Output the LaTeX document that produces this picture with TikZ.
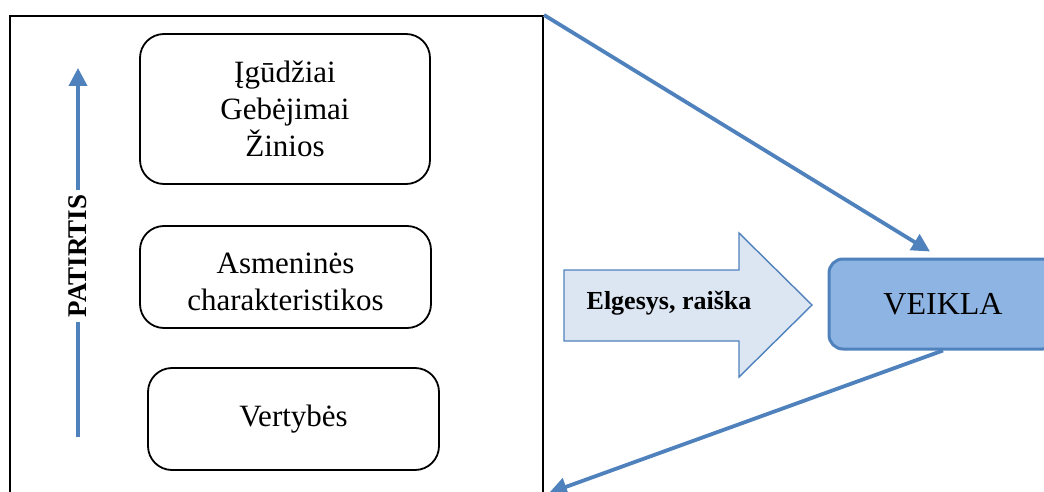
\documentclass[tikz,border=0pt]{standalone}
\usepackage{fontspec}
\setmainfont{Liberation Serif}
\usepackage{tikz}
\usetikzlibrary{arrows.meta,positioning}
\definecolor{blueline}{RGB}{79,129,189}
\definecolor{veiklafill}{RGB}{141,180,227}
\definecolor{arrowfill}{RGB}{220,230,242}
\begin{document}
\begin{tikzpicture}[
  x=0.5pt,y=-0.5pt,
  frame/.style={draw,line width=1pt,minimum width=266.5pt,minimum height=252pt,inner sep=0pt},
  rbox/.style={draw,rounded corners=12pt,line width=0.9pt,align=center,inner sep=0pt,
    font=\fontsize{15.5}{18.5}\selectfont},
  veiklabox/.style={draw=blueline,fill=veiklafill,rounded corners=7pt,line width=1.5pt,
    minimum width=114pt,minimum height=45pt,font=\fontsize{16}{19}\selectfont},
  link/.style={draw=blueline,line width=1.9pt,-{Triangle[length=9pt,width=9pt]}},
]
\useasboundingbox (0,0) rectangle (1044,492);
\clip (0,0) rectangle (1044,492);

\node[frame] (ramka) at (276.5,268) {};

\node[rbox,minimum width=145pt,minimum height=75pt] (skills) at (285,109)
  {Įgūdžiai\\Gebėjimai\\Žinios};
\node[rbox,minimum width=145.5pt,minimum height=51pt] (traits) at (285.5,277)
  {\rule{0pt}{15pt}Asmeninės\\charakteristikos};
\node[rbox,minimum width=145.5pt,minimum height=51pt] (values) at (293.5,419)
  {Vertybės};

\coordinate (patA) at (78,437);
\coordinate (patB) at (78,68);
\draw[link] (patA) -- node[pos=0.49,fill=white,rotate=90,inner sep=2.5pt,
  font=\fontsize{13.5}{15}\bfseries] (patirtis) {PATIRTIS} (patB);

% block arrow
\draw[blueline,fill=arrowfill,line width=0.7pt] (564,270) -- (739,270) -- (739,233)
  -- (812,305) -- (739,377) -- (739,341) -- (564,341) -- cycle;
\node[font=\fontsize{13}{15}\bfseries] (elgesys) at (669,303) {Elgesys, raiška};

\node[veiklabox] (veikla) at (943,304) {VEIKLA};

\coordinate (grizta) at (549,493);
\draw[link] (ramka.north east) -- ([shift={(-13,-6)}]veikla.north);
\draw[link] (veikla.south) -- (grizta);

\end{tikzpicture}
\end{document}
